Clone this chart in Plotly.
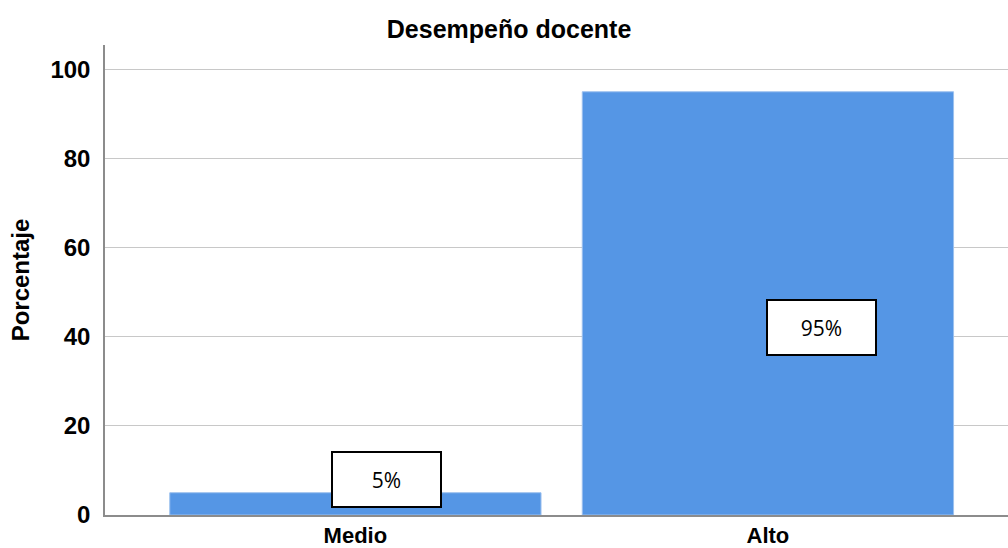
import plotly.graph_objects as go

# Data
categories = ["Medio", "Alto"]
percentages = [5, 95]
value_labels = ["5%", "95%"]
y_ticks = [0, 20, 40, 60, 80, 100]

bar_color = "#5596e5"
label_font = "Liberation Sans, Arial, sans-serif"

fig = go.Figure()
fig.add_trace(go.Bar(
    x=categories,
    y=percentages,
    marker=dict(color=bar_color, line=dict(color="#9cc0ee", width=1)),
    hoverinfo="skip",
))

# Boxed value labels, placed over each bar
label_dx = [0.076, 0.13]
label_y = [8.0, 42.0]
for i, (cat, txt) in enumerate(zip(categories, value_labels)):
    fig.add_annotation(
        x=i + label_dx[i], y=label_y[i], xref="x", yref="y",
        text=txt, showarrow=False,
        font=dict(family="Open Sans, Noto Sans, sans-serif", size=21, color="#000000"),
        bgcolor="#ffffff", bordercolor="#000000", borderwidth=2,
        width=105, height=51, align="center", valign="middle",
    )

fig.update_layout(
    width=1008, height=548,
    margin=dict(l=105, r=0, t=45, b=33),
    paper_bgcolor="#ffffff", plot_bgcolor="#ffffff",
    showlegend=False,
    bargap=0.1,
    title=dict(
        text="<b>Desempeño docente</b>",
        x=0.505, xref="container", xanchor="center",
        y=0.947, yref="container", yanchor="middle",
        font=dict(family=label_font, size=25, color="#000000"),
    ),
    xaxis=dict(
        type="category",
        range=[-0.607, 1.582],
        automargin=False,
        showgrid=False, zeroline=False,
        showline=True, linecolor="#8c8c8c", linewidth=1.5,
        ticks="", ticklabelstandoff=0,
        tickfont=dict(family=label_font, size=22, color="#000000", weight="bold"),
    ),
    yaxis=dict(
        range=[0, 105.5],
        tickvals=y_ticks,
        automargin=False,
        showgrid=True, gridcolor="#c8c8c8", gridwidth=1,
        zeroline=False,
        showline=True, linecolor="#8c8c8c", linewidth=1.5,
        ticks="", ticklabelstandoff=8,
        tickfont=dict(family=label_font, size=24, color="#000000", weight="bold"),
        title=dict(
            text="<b>Porcentaje</b>", standoff=14,
            font=dict(family=label_font, size=24, color="#000000"),
        ),
    ),
)

fig.write_html("out.html")
